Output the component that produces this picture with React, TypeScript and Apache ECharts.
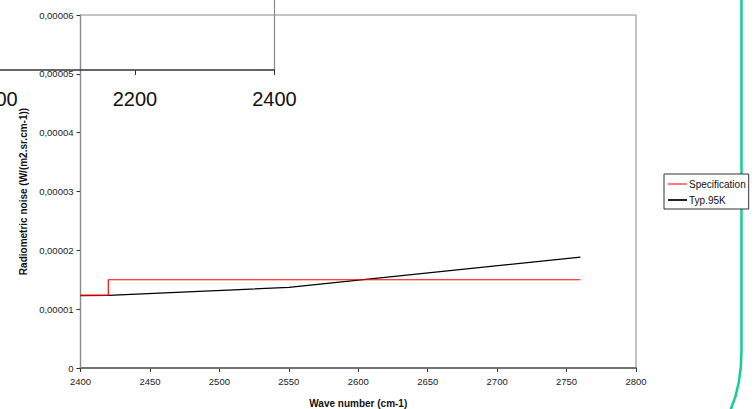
import React, { useEffect, useRef } from "react";
import * as echarts from "echarts";

const specX = [2400, 2420, 2420, 2760];
const specY = [0.0000124, 0.0000124, 0.000015, 0.000015];
const typX = [2400, 2420, 2550, 2760];
const typY = [0.0000123, 0.00001235, 0.0000137, 0.00001886];
const seriesNames = ["Specification", "Typ.95K"];
const axisTitles = { x: "Wave number (cm-1)", y: "Radiometric noise (W/(m2.sr.cm-1))" };

const FONT = "'Liberation Sans', Arial, sans-serif";

export default function App() {
  const ref = useRef<HTMLDivElement>(null);
  useEffect(() => {
    if (!ref.current) return;
    const chart = echarts.init(ref.current, undefined, { renderer: "svg" });
    const fmtY = (v: number) => (v === 0 ? "0" : v.toFixed(5).replace(".", ","));
    const fmtX = (v: number) => String(Math.round(v));
    chart.setOption({
      animation: false,
      backgroundColor: "#ffffff",
      textStyle: { fontFamily: FONT },
      grid: [
        { left: 80.5, right: 120, top: 15, bottom: 41, show: true, borderColor: "#8a8a8a", borderWidth: 1, z: 1, outerBoundsMode: "none", containLabel: false },
        { left: -4.5, width: 279, top: 0, height: 70, show: false, z: 10, outerBoundsMode: "none", containLabel: false },
      ],
      xAxis: [
        {
          gridIndex: 0,
          type: "value",
          min: 2400,
          max: 2800,
          interval: 50,
          name: axisTitles.x,
          nameLocation: "middle",
          nameGap: 30,
          nameTextStyle: { fontSize: 10, fontWeight: "bold", color: "#111", fontFamily: FONT },
          axisLine: { show: true, lineStyle: { color: "#5a5a5a", width: 2 } },
          axisTick: { show: true, length: 4, lineStyle: { color: "#333" } },
          axisLabel: { fontSize: 9.5, color: "#222", margin: 8, fontFamily: FONT, formatter: fmtX },
          splitLine: { show: false },
        },
        {
          gridIndex: 1,
          type: "value",
          min: 2000,
          max: 2400,
          interval: 200,
          z: 10,
          axisLine: { show: true, lineStyle: { color: "#333", width: 1.5 } },
          axisTick: { show: true, length: 5, lineStyle: { color: "#333" } },
          axisLabel: { fontSize: 20, color: "#111", margin: 19, fontFamily: FONT, formatter: fmtX, hideOverlap: false },
          splitLine: { show: false },
        },
      ],
      yAxis: [
        {
          gridIndex: 0,
          type: "value",
          min: 0,
          max: 0.00006,
          interval: 0.00001,
          name: axisTitles.y,
          nameLocation: "middle",
          nameGap: 47,
          nameTextStyle: { fontSize: 10, fontWeight: "bold", color: "#111", fontFamily: FONT },
          axisLine: { show: true, lineStyle: { color: "#111", width: 1.2 } },
          axisTick: { show: true, length: 4, lineStyle: { color: "#333" } },
          axisLabel: { fontSize: 9.5, color: "#222", margin: 7, formatter: fmtY, fontFamily: FONT },
          splitLine: { show: false },
        },
        {
          gridIndex: 1,
          type: "value",
          position: "right",
          min: 0,
          max: 1,
          z: 10,
          axisLine: { show: true, onZero: false, lineStyle: { color: "#8a8a8a", width: 1.2 } },
          axisTick: { show: false },
          axisLabel: { show: false },
          splitLine: { show: false },
        },
      ],
      legend: {
        orient: "vertical",
        left: 664,
        top: 174,
        z: 10,
        itemWidth: 19,
        itemHeight: 2,
        itemGap: 6,
        icon: "rect",
        padding: [5, 3, 4, 4],
        borderColor: "#333",
        borderWidth: 1,
        backgroundColor: "#fff",
        textStyle: { fontSize: 10, color: "#111", fontFamily: FONT, padding: [0, 0, 0, -3] },
        data: [
          { name: seriesNames[0], icon: "rect", itemStyle: { color: "#ff7a7a" } },
          { name: seriesNames[1], icon: "rect", itemStyle: { color: "#222" } },
        ],
      },
      series: [
        {
          name: seriesNames[0],
          type: "line",
          xAxisIndex: 0,
          yAxisIndex: 0,
          symbol: "none",
          data: specX.map((x, i) => [x, specY[i]]),
          lineStyle: { color: "#ff0000", width: 1.2 },
          itemStyle: { color: "#ff0000" },
          z: 3,
        },
        {
          name: seriesNames[1],
          type: "line",
          xAxisIndex: 0,
          yAxisIndex: 0,
          symbol: "none",
          data: typX.map((x, i) => [x, typY[i]]),
          lineStyle: { color: "#000000", width: 1.2 },
          itemStyle: { color: "#000000" },
          z: 2,
        },
      ],
      graphic: [
        {
          type: "line",
          shape: { x1: 741.5, y1: 0, x2: 741.5, y2: 350 },
          style: { stroke: "#12cf96", lineWidth: 2.5 },
          z: 3,
        },
        {
          type: "bezierCurve",
          shape: { x1: 741.5, y1: 350, x2: 730.5, y2: 410, cpx1: 741.5, cpy1: 385 },
          style: { stroke: "#12cf96", lineWidth: 2.5, fill: null },
          z: 3,
        },
      ],
    });
    return () => chart.dispose();
  }, []);
  return <div ref={ref} style={{ position: "fixed", left: 0, top: 0, width: 756, height: 409 }} />;
}
